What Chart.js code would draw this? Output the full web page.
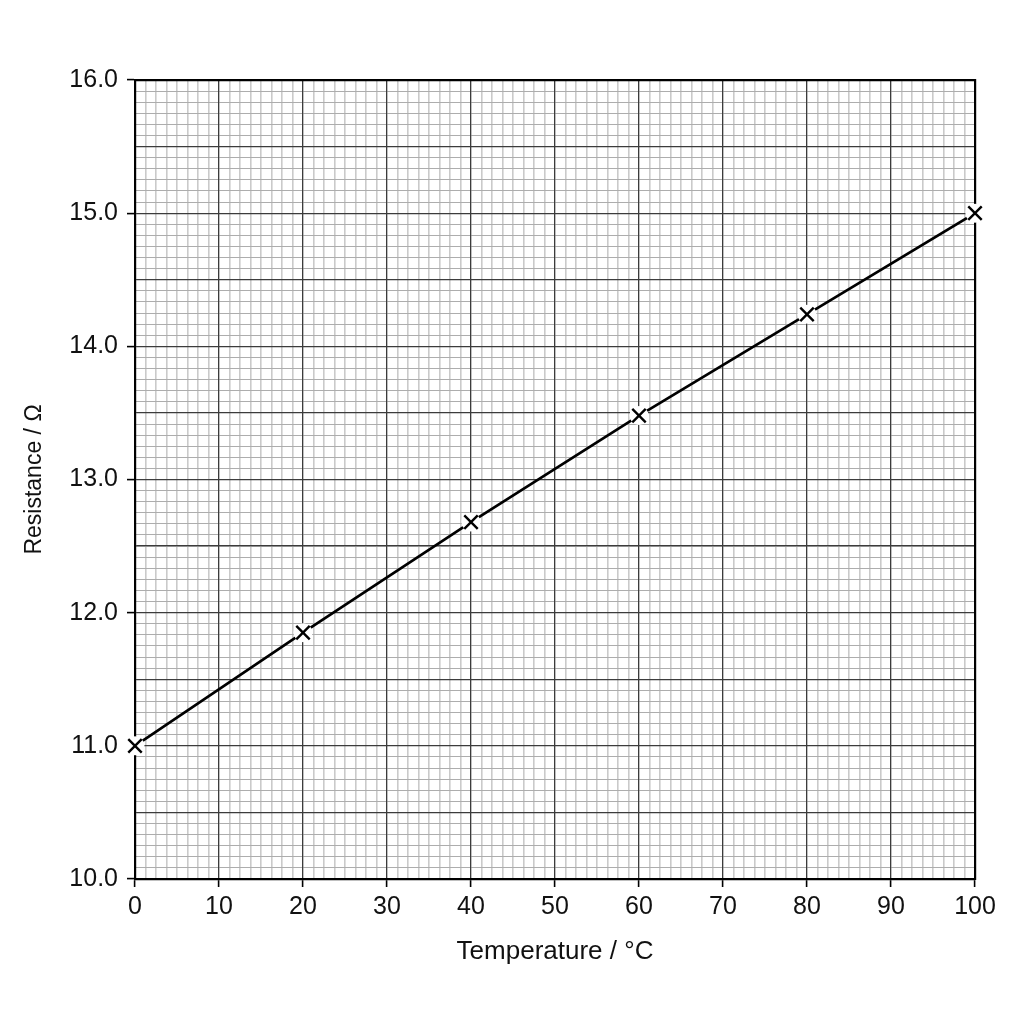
<!DOCTYPE html>
<html>
<head>
<meta charset="utf-8">
<script src="https://cdn.jsdelivr.net/npm/chart.js@4.4.1/dist/chart.umd.min.js"></script>
<style>
  html, body { margin: 0; padding: 0; background: #ffffff; }
  #wrap { width: 1024px; height: 1024px; position: relative; }
</style>
</head>
<body>
<div id="wrap"><canvas id="c" width="1024" height="1024"></canvas></div>
<script>
// ---- data ----
const temperatures = [0, 20, 40, 60, 80, 100];
const resistances = [11.0, 11.85, 12.68, 13.48, 14.24, 15.0];

const xMin = 0, xMax = 100, xMajorStep = 10, xMinorDivisions = 8;
const yMin = 10, yMax = 16, yMajorStep = 0.5, yLabelStep = 1, yMinorDivisions = 6;

const xTitle = 'Temperature / °C';
const yTitle = 'Resistance / Ω';

const points = temperatures.map((t, i) => ({ x: t, y: resistances[i] }));

function minorTicks(min, max, step, div) {
  const out = [];
  const n = Math.round((max - min) / step) * div;
  for (let i = 0; i <= n; i++) out.push({ value: min + i * step / div });
  return out;
}

const FONT = "'Liberation Sans', Arial, sans-serif";
const textColor = '#111111';
const majorColor = '#3c3c3c';

new Chart(document.getElementById('c'), {
  type: 'scatter',
  data: {
    datasets: [
      {
        // markers (on top)
        data: points,
        showLine: false,
        clip: false,
        pointStyle: 'crossRot',
        pointRadius: 9.5,
        pointBorderWidth: 2.4,
        pointBorderColor: '#000000',
        pointBackgroundColor: '#000000',
        order: 1
      },
      {
        // white halo behind markers
        data: points,
        showLine: false,
        clip: false,
        pointStyle: 'circle',
        pointRadius: 9.5,
        pointBorderWidth: 0,
        pointBackgroundColor: '#ffffff',
        pointBorderColor: '#ffffff',
        order: 2
      },
      {
        // connecting line
        data: points,
        showLine: true,
        borderColor: '#000000',
        borderWidth: 2.7,
        pointRadius: 0,
        tension: 0,
        order: 3
      }
    ]
  },
  options: {
    responsive: false,
    animation: false,
    events: [],
    layout: { padding: { top: 80, right: 49, left: 0, bottom: 0 } },
    plugins: { legend: { display: false }, tooltip: { enabled: false } },
    scales: {
      x: {
        type: 'linear', position: 'bottom', min: xMin, max: xMax,
        afterFit: s => { s.height = 145; },
        ticks: { stepSize: xMajorStep, autoSkip: false, maxRotation: 0, padding: 5,
                 color: textColor, font: { family: FONT, size: 25 } },
        grid: { color: majorColor, lineWidth: 1.2, tickLength: 8, tickColor: '#000', tickWidth: 1.6, z: -1 },
        border: { display: true, color: '#000', width: 2.2 },
        title: { display: true, text: xTitle, color: textColor,
                 font: { family: FONT, size: 26 }, padding: { top: 0, bottom: 57 } }
      },
      y: {
        type: 'linear', position: 'left', min: yMin, max: yMax,
        afterFit: s => { s.width = 135; },
        ticks: { stepSize: yMajorStep, autoSkip: false, padding: 9,
                 color: textColor, font: { family: FONT, size: 25 },
                 callback: v => (Math.abs(v / yLabelStep - Math.round(v / yLabelStep)) < 1e-9 ? v.toFixed(1) : '') },
        grid: { color: majorColor, lineWidth: 1.2, tickLength: 8, tickWidth: 1.6, z: -1,
                tickColor: c => (c.tick && Math.abs(c.tick.value / yLabelStep - Math.round(c.tick.value / yLabelStep)) < 1e-9 ? '#000' : 'rgba(0,0,0,0)') },
        border: { display: true, color: '#000', width: 2.2 },
        title: { display: true, text: yTitle, color: textColor,
                 font: { family: FONT, size: 23 }, padding: { top: 21, bottom: 0 } }
      },
      xMinor: {
        type: 'linear', position: 'bottom', min: xMin, max: xMax,
        afterBuildTicks: s => { s.ticks = minorTicks(xMin, xMax, xMajorStep, xMinorDivisions); },
        afterFit: s => { s.height = 0; },
        ticks: { display: false },
        grid: { color: '#cacaca', lineWidth: 1.6, drawTicks: false, z: -3 },
        border: { display: false }
      },
      yMinor: {
        type: 'linear', position: 'left', min: yMin, max: yMax,
        afterBuildTicks: s => { s.ticks = minorTicks(yMin, yMax, yMajorStep, yMinorDivisions); },
        afterFit: s => { s.width = 0; },
        ticks: { display: false },
        grid: { color: '#adadad', lineWidth: 1, drawTicks: false, z: -2 },
        border: { display: false }
      },
      xTop: {
        type: 'linear', position: 'top', min: xMin, max: xMax,
        afterFit: s => { s.height = 0; },
        ticks: { display: false },
        grid: { display: false, drawTicks: false },
        border: { display: true, color: '#000', width: 2.2 }
      },
      yRight: {
        type: 'linear', position: 'right', min: yMin, max: yMax,
        afterFit: s => { s.width = 0; },
        ticks: { display: false },
        grid: { display: false, drawTicks: false },
        border: { display: true, color: '#000', width: 2.2 }
      }
    }
  }
});
</script>
</body>
</html>
